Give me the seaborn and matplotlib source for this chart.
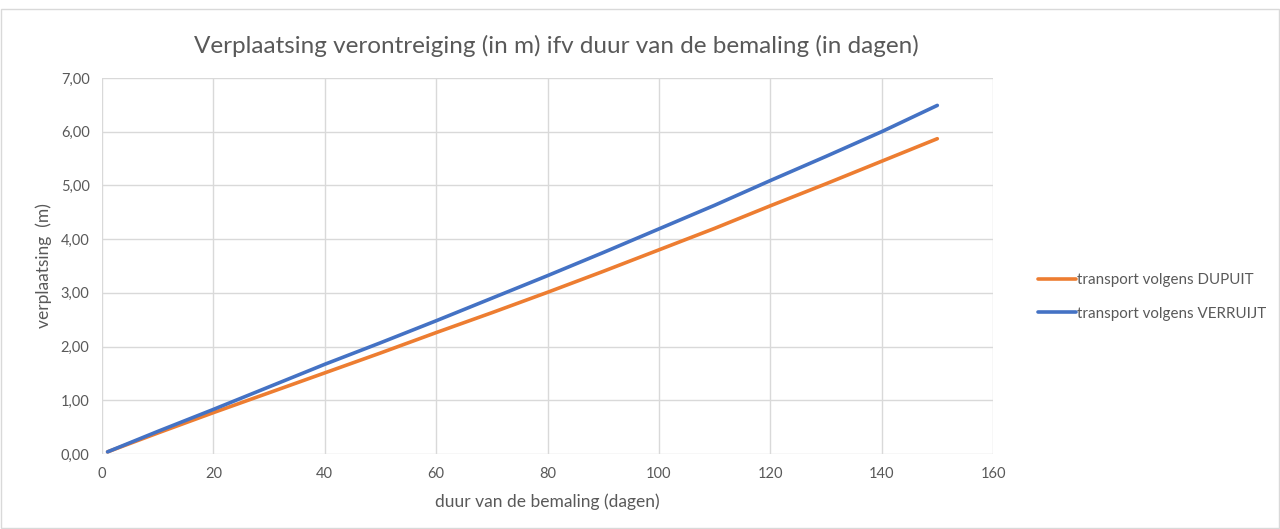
import pandas as pd
import numpy as np
import matplotlib.pyplot as plt
import seaborn as sns
from matplotlib.ticker import FuncFormatter

# Values
dagen = [1, 10, 20, 30, 40, 50, 60, 70, 80, 90, 100, 110, 120, 130, 140, 150]
dupuit = [0.04, 0.39, 0.77, 1.14, 1.51, 1.88, 2.26, 2.63, 3.01, 3.40, 3.80, 4.20, 4.62, 5.03, 5.45, 5.87]
verruijt = [0.04, 0.42, 0.83, 1.25, 1.67, 2.07, 2.48, 2.90, 3.32, 3.75, 4.19, 4.63, 5.09, 5.54, 6.00, 6.49]
series_names = ['transport volgens DUPUIT', 'transport volgens VERRUIJT']

df = pd.DataFrame({
    'dagen': dagen * 2,
    'verplaatsing': dupuit + verruijt,
    'reeks': [series_names[0]] * len(dagen) + [series_names[1]] * len(dagen),
})

sns.set_style('white')
plt.rcParams['font.family'] = ['Lato', 'DejaVu Sans']

fig = plt.figure(figsize=(12.8, 5.29), dpi=100)
ax = fig.add_axes([102 / 1280, 75 / 529, (993 - 102) / 1280, (454 - 78) / 529])

sns.lineplot(data=df, x='dagen', y='verplaatsing', hue='reeks',
             palette=['#ED7D31', '#4472C4'], linewidth=2.6, ax=ax)

ax.set_xlim(0, 160)
ax.set_ylim(0, 7)
ax.set_xticks(np.arange(0, 161, 20))
ax.set_yticks(np.arange(0, 7.01, 1))
ax.yaxis.set_major_formatter(FuncFormatter(lambda v, p: f'{v:.2f}'.replace('.', ',')))
ax.grid(True, color='#d9d9d9', linewidth=1)
ax.set_axisbelow(True)
for s in ax.spines.values():
    s.set_visible(False)
ax.tick_params(axis='both', length=0, colors='#595959', labelsize=10.5, pad=9)

ax.set_xlabel('duur van de bemaling (dagen)', color='#595959', fontsize=12.5, labelpad=9)
ax.set_ylabel('verplaatsing  (m)', color='#595959', fontsize=12.5, labelpad=6)
ax.set_title('Verplaatsing verontreiging (in m) ifv duur van de bemaling (in dagen)',
             color='#595959', fontsize=17.5, pad=18, x=0.51)

leg = ax.legend(loc='center left', bbox_to_anchor=(1.035, 0.418), frameon=False,
                fontsize=10.9, handlelength=2.5, handletextpad=0.1, labelspacing=1.3)
for t in leg.get_texts():
    t.set_color('#595959')

# chart area border
fig.patches.append(plt.Rectangle((0.001, 0.002), 0.998, 1 - 10 / 529, transform=fig.transFigure,
                                 fill=False, edgecolor='#d9d9d9', linewidth=1))

fig.savefig('out.png', dpi=100)
